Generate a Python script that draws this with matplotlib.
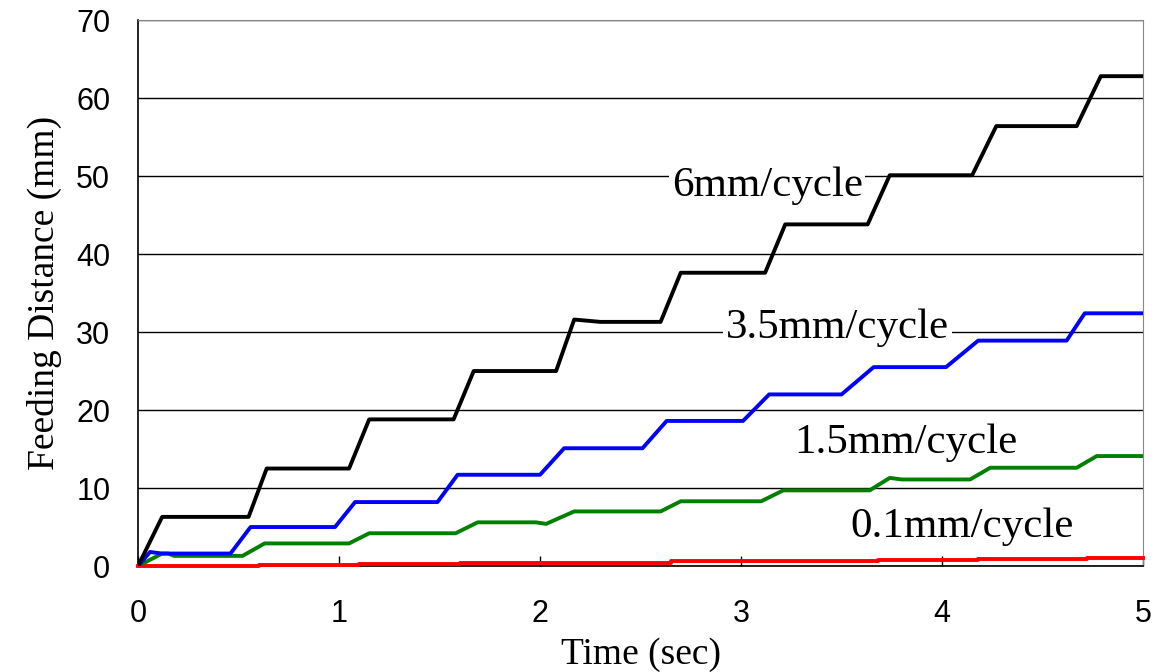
import matplotlib
matplotlib.use("Agg")
from matplotlib import pyplot as plt

# values (time in sec, distance in mm)
t_6 = [0, 0.12, 0.55, 0.64, 1.05, 1.15, 1.57, 1.67, 2.08, 2.17, 2.30, 2.60, 2.70,
       3.12, 3.22, 3.63, 3.74, 4.15, 4.27, 4.67, 4.79, 5.0]
d_6 = [0, 6.3, 6.3, 12.5, 12.5, 18.8, 18.8, 25.0, 25.0, 31.6, 31.3, 31.3, 37.6,
       37.6, 43.8, 43.8, 50.1, 50.1, 56.4, 56.4, 62.8, 62.8]

t_35 = [0, 0.06, 0.09, 0.12, 0.46, 0.56, 0.98, 1.08, 1.49, 1.59, 2.00, 2.12,
        2.51, 2.63, 3.01, 3.14, 3.50, 3.66, 4.02, 4.18, 4.62, 4.71, 5.0]
d_35 = [0, 1.8, 1.7, 1.6, 1.6, 5.0, 5.0, 8.2, 8.2, 11.7, 11.7, 15.1,
        15.1, 18.6, 18.6, 22.0, 22.0, 25.5, 25.5, 28.9, 28.9, 32.4, 32.4]

t_15 = [0, 0.12, 0.15, 0.18, 0.52, 0.63, 1.05, 1.15, 1.58, 1.69, 1.98, 2.03, 2.17,
        2.60, 2.70, 3.10, 3.21, 3.64, 3.74, 3.80, 4.14, 4.24, 4.67, 4.77, 5.0]
d_15 = [0, 1.6, 1.6, 1.3, 1.3, 2.9, 2.9, 4.2, 4.2, 5.6, 5.6, 5.4, 7.0,
        7.0, 8.3, 8.3, 9.7, 9.7, 11.3, 11.1, 11.1, 12.6, 12.6, 14.1, 14.1]

t_01 = [0, 0.60, 1.10, 1.60, 2.10, 2.65, 3.15, 3.68, 4.18, 4.72, 5.0]
d_01 = [0.05, 0.1, 0.2, 0.35, 0.45, 0.6, 0.7, 0.8, 0.9, 1.0, 1.0]

labels = ["6mm/cycle", "3.5mm/cycle", "1.5mm/cycle", "0.1mm/cycle"]
label_xy = [(3.13, 48.8), (3.48, 30.6), (3.82, 15.8), (4.10, 5.0)]

fig = plt.figure(figsize=(11.57, 6.72), dpi=100)
ax = fig.add_axes([0.1193, 0.1577, 0.8686, 0.8125])

ax.plot(t_01, d_01, color="#ff0000", lw=2.8, drawstyle="steps-post", zorder=3, clip_on=False)
ax.plot(t_15, d_15, color="#008000", lw=2.8, zorder=4)
ax.plot(t_35, d_35, color="#0000ff", lw=2.8, zorder=5)
ax.plot(t_6, d_6, color="black", lw=2.8, zorder=6)

for txt, (x, y) in zip(labels, label_xy):
    ax.text(x, y, txt, ha="center", va="center", fontsize=31,
            family="Liberation Serif", zorder=7,
            bbox=dict(facecolor="white", edgecolor="none", pad=2))

ax.set_xlim(0, 5)
ax.set_ylim(0, 70)
ax.set_xticks(range(0, 6))
ax.set_yticks(range(0, 80, 10))
ax.yaxis.grid(True, color="black", lw=1.0)
ax.set_axisbelow(True)

ax.tick_params(axis="x", direction="in", length=7, width=1, pad=24, labelsize=22)
ax.tick_params(axis="y", length=0, pad=20, labelsize=22)
for lab in ax.get_xticklabels() + ax.get_yticklabels():
    lab.set_family("Liberation Sans")

for s in ["top", "right"]:
    ax.spines[s].set_color("#888888")
for s in ["left", "bottom"]:
    ax.spines[s].set_color("black")
    ax.spines[s].set_linewidth(1.2)

ax.set_xlabel("Time (sec)", family="Liberation Serif", fontsize=27, labelpad=6)
ax.set_ylabel("Feeding Distance (mm)", family="Liberation Serif", fontsize=27, labelpad=10)

fig.savefig("out.png", dpi=100)
